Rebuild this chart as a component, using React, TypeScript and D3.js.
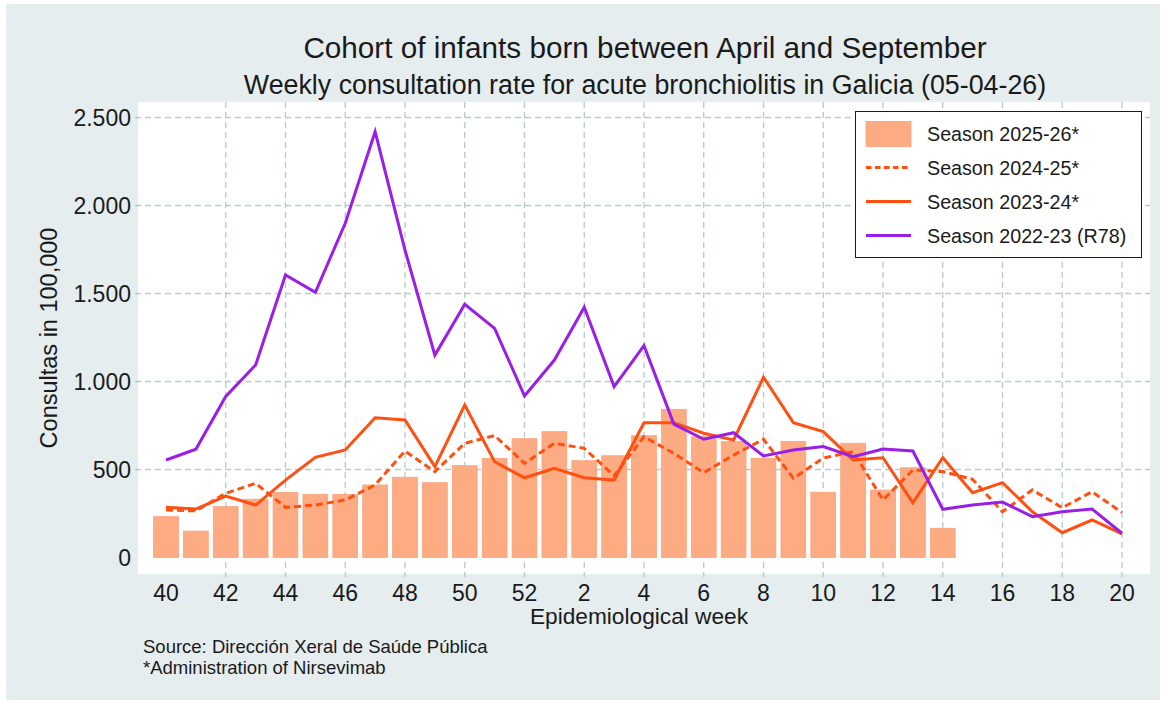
import React, { useRef, useEffect } from 'react';
import * as d3 from 'd3';

// Epidemiological weeks, season runs from week 40 to week 20
const weeks = [40, 41, 42, 43, 44, 45, 46, 47, 48, 49, 50, 51, 52, 1, 2, 3, 4, 5, 6, 7, 8, 9, 10, 11, 12, 13, 14, 15, 16, 17, 18, 19, 20];

// Season 2025-26 (bars), only up to week 14
const season2526 = [232, 150, 289, 331, 370, 359, 359, 412, 456, 425, 522, 562, 675, 715, 550, 578, 692, 842, 686, 658, 564, 660, 371, 649, 383, 510, 166];

// Season 2024-25 (dashed)
const season2425 = [270, 265, 365, 422, 285, 298, 327, 412, 605, 488, 649, 693, 535, 649, 620, 465, 686, 592, 482, 582, 672, 450, 565, 601, 327, 497, 488, 444, 260, 384, 283, 374, 255];

// Season 2023-24 (solid orange)
const season2324 = [285, 275, 349, 298, 440, 569, 611, 794, 781, 516, 866, 544, 453, 507, 453, 440, 766, 766, 706, 668, 1024, 766, 715, 554, 567, 311, 567, 368, 425, 260, 141, 213, 134];

// Season 2022-23 (purple)
const season2223 = [554, 615, 915, 1094, 1605, 1507, 1899, 2419, 1747, 1150, 1439, 1302, 918, 1122, 1422, 971, 1204, 758, 672, 709, 577, 611, 630, 573, 616, 605, 274, 298, 315, 232, 260, 275, 138];

const yTicks = [0, 500, 1000, 1500, 2000, 2500];

const legendItems = [
  { label: 'Season 2025-26*', type: 'bar' },
  { label: 'Season 2024-25*', type: 'dash' },
  { label: 'Season 2023-24*', type: 'solid' },
  { label: 'Season 2022-23 (R78)', type: 'purple' },
];

const FONT = '"Liberation Sans", Arial, sans-serif';
const BAR_FILL = '#fdab82';
const ORANGE = '#ff5012';
const PURPLE = '#9a1fe6';
const GRID = '#b7c9cc';

const App = () => {
  const svgRef = useRef<SVGSVGElement>(null);
  const width = 1168;
  const height = 704;

  useEffect(() => {
    document.body.style.margin = '0';
    const svg = d3.select(svgRef.current);
    svg.selectAll('*').remove();

    // plot region
    const plot = { left: 138, right: 1150, top: 102, bottom: 574 };

    const x = d3.scaleLinear().domain([0, weeks.length - 1]).range([166, 1122]);
    const y = d3.scaleLinear().domain([0, 2500]).range([557.5, 117.5]);
    const step = x(1) - x(0);

    svg.append('rect').attr('width', width).attr('height', height).attr('fill', '#ffffff');
    svg.append('rect')
      .attr('x', 6).attr('y', 4).attr('width', 1154).attr('height', 696)
      .attr('fill', '#e5edef');
    svg.append('rect')
      .attr('x', plot.left).attr('y', plot.top)
      .attr('width', plot.right - plot.left).attr('height', plot.bottom - plot.top)
      .attr('fill', '#ffffff');

    // gridlines
    const g = svg.append('g');
    g.selectAll('.hgrid')
      .data(yTicks.filter(d => d > 0))
      .enter().append('line')
      .attr('x1', 135).attr('x2', plot.right)
      .attr('y1', d => y(d)).attr('y2', d => y(d))
      .attr('stroke', GRID).attr('stroke-width', 1.3).attr('stroke-dasharray', '6,4');

    const xTickIdx = weeks.map((w, i) => i).filter(i => i % 2 === 0);
    g.selectAll('.vgrid')
      .data(xTickIdx.filter(i => i > 0))
      .enter().append('line')
      .attr('x1', d => x(d)).attr('x2', d => x(d))
      .attr('y1', plot.top).attr('y2', plot.bottom + 3)
      .attr('stroke', GRID).attr('stroke-width', 1.3).attr('stroke-dasharray', '6,4');

    // bars
    const barW = step * 0.83;
    g.selectAll('.bar')
      .data(season2526)
      .enter().append('rect')
      .attr('x', (d, i) => x(i) - barW / 2)
      .attr('y', d => y(d))
      .attr('width', barW)
      .attr('height', d => y(0) - y(d))
      .attr('fill', BAR_FILL)
      .attr('stroke', '#f7a47c')
      .attr('stroke-width', 0.8);

    const line = d3.line<number>().x((d, i) => x(i)).y(d => y(d));

    g.append('path').datum(season2425)
      .attr('d', line).attr('fill', 'none')
      .attr('stroke', ORANGE).attr('stroke-width', 3).attr('stroke-dasharray', '7,4');
    g.append('path').datum(season2324)
      .attr('d', line).attr('fill', 'none')
      .attr('stroke', ORANGE).attr('stroke-width', 3);
    g.append('path').datum(season2223)
      .attr('d', line).attr('fill', 'none')
      .attr('stroke', PURPLE).attr('stroke-width', 3);

    // y axis labels
    svg.selectAll('.ylab')
      .data(yTicks)
      .enter().append('text')
      .attr('x', 131).attr('y', d => y(d) + 8.3)
      .attr('text-anchor', 'end')
      .attr('font-family', FONT).attr('font-size', 23).attr('fill', '#1a1a1a')
      .text(d => d3.format(',')(d).replace(/,/g, '.'));

    svg.append('text')
      .attr('transform', 'translate(57,338) rotate(-90)')
      .attr('text-anchor', 'middle')
      .attr('font-family', FONT).attr('font-size', 23.5).attr('fill', '#1a1a1a')
      .text('Consultas in 100,000');

    // x axis labels
    svg.selectAll('.xlab')
      .data(xTickIdx)
      .enter().append('text')
      .attr('x', d => x(d)).attr('y', 600.5)
      .attr('text-anchor', 'middle')
      .attr('font-family', FONT).attr('font-size', 23).attr('fill', '#1a1a1a')
      .text(d => weeks[d]);

    svg.append('text')
      .attr('x', 639).attr('y', 624)
      .attr('text-anchor', 'middle')
      .attr('font-family', FONT).attr('font-size', 22.7).attr('fill', '#1a1a1a')
      .text('Epidemiological week');

    // titles
    svg.append('text')
      .attr('x', 645).attr('y', 58)
      .attr('text-anchor', 'middle')
      .attr('font-family', FONT).attr('font-size', 29.7).attr('fill', '#1a1a1a')
      .text('Cohort of infants born between April and September');
    svg.append('text')
      .attr('x', 645).attr('y', 94)
      .attr('text-anchor', 'middle')
      .attr('font-family', FONT).attr('font-size', 26.8).attr('fill', '#1a1a1a')
      .text('Weekly consultation rate for acute bronchiolitis in Galicia (05-04-26)');

    // notes
    svg.append('text')
      .attr('x', 143).attr('y', 653)
      .attr('font-family', FONT).attr('font-size', 18.5).attr('fill', '#1a1a1a')
      .text('Source: Dirección Xeral de Saúde Pública');
    svg.append('text')
      .attr('x', 143).attr('y', 674)
      .attr('font-family', FONT).attr('font-size', 18.5).attr('fill', '#1a1a1a')
      .text('*Administration of Nirsevimab');

    // legend
    const lg = svg.append('g');
    lg.append('rect')
      .attr('x', 855.5).attr('y', 111.5).attr('width', 286).attr('height', 146)
      .attr('fill', '#ffffff').attr('stroke', '#1a1a1a').attr('stroke-width', 1);
    const rowY = [134, 167.5, 201.5, 235.5];
    legendItems.forEach((item, i) => {
      const cy = rowY[i];
      if (item.type === 'bar') {
        lg.append('rect')
          .attr('x', 866).attr('y', cy - 12.5).attr('width', 45).attr('height', 25)
          .attr('fill', BAR_FILL).attr('stroke', '#f7a47c').attr('stroke-width', 0.8);
      } else {
        lg.append('line')
          .attr('x1', 866).attr('x2', 911).attr('y1', cy).attr('y2', cy)
          .attr('stroke', item.type === 'purple' ? PURPLE : ORANGE)
          .attr('stroke-width', 3)
          .attr('stroke-dasharray', item.type === 'dash' ? '5.5,3.5' : null);
      }
      lg.append('text')
        .attr('x', 927).attr('y', cy + 7)
        .attr('font-family', FONT).attr('font-size', 19.7).attr('fill', '#1a1a1a')
        .text(item.label);
    });
  }, []);

  return <svg ref={svgRef} width={width} height={height} style={{ display: 'block' }}></svg>;
};

export default App;
